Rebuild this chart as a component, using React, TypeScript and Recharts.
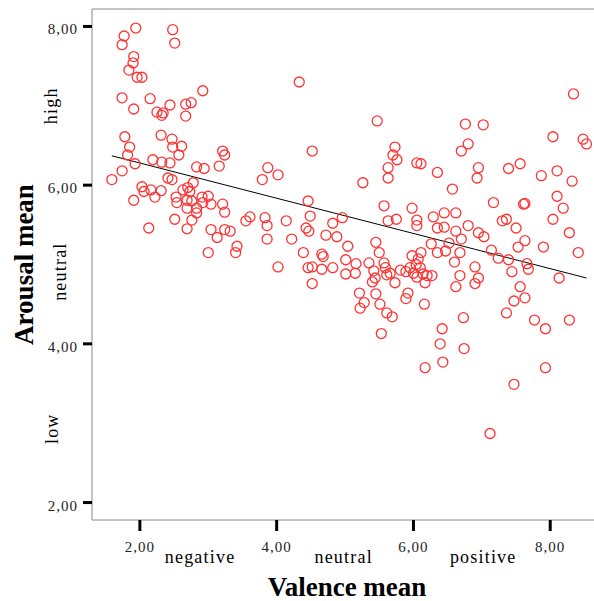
import { ScatterChart, Scatter, XAxis, YAxis, ReferenceLine } from "recharts";

// valence / arousal means
const valence = [
  1.59, 1.74, 1.91, 1.78, 1.85, 1.82, 1.93, 1.74, 1.91, 2.15,
  2.25, 2.32, 2.34, 2.44, 2.67, 2.75, 2.67, 2.92, 1.77, 1.74,
  1.94, 2.48, 2.51, 1.91, 1.90, 1.84, 1.96, 2.03, 2.31, 2.47,
  2.48, 2.61, 2.57, 2.19, 2.32, 2.44, 2.41, 2.47, 2.03, 2.06,
  2.16, 2.22, 2.31, 2.53, 2.54, 2.63, 2.70, 2.73, 2.78, 2.69,
  2.76, 2.69, 2.83, 2.91, 3.00, 2.92, 3.04, 2.83, 2.76, 2.51,
  2.69, 2.13, 2.83, 2.94, 3.16, 3.21, 3.24, 3.21, 3.24, 3.04,
  3.13, 3.24, 3.32, 3.00, 3.42, 3.40,
  3.55, 3.61, 3.83, 3.86, 3.86, 4.14, 4.22, 4.02, 3.79, 3.87,
  4.02, 4.33, 4.52, 4.46, 4.49, 4.43, 4.47, 4.82, 4.96, 4.39,
  4.72, 4.88, 4.66, 4.68, 4.46, 4.52, 4.66, 4.82, 4.52, 5.04,
  5.01, 5.01,
  5.47, 5.26, 5.73, 5.70, 5.76, 6.05, 6.11, 5.63, 5.63, 6.35,
  6.57, 6.76, 6.80, 6.70, 5.57, 5.98, 5.63, 5.75, 6.05, 6.05,
  6.29, 6.45, 6.62, 6.35, 6.45, 6.62, 6.80, 6.70, 6.52, 6.26,
  6.35, 6.47, 6.68, 6.11, 5.98, 6.07, 5.95, 6.04, 6.10, 5.81,
  5.89, 6.00, 6.05, 6.14, 6.20, 6.27, 6.17, 5.92, 5.89, 5.73,
  5.61, 5.66, 5.57, 5.59, 5.42, 5.44, 5.40, 5.50, 5.45, 5.35,
  5.16, 5.15, 5.21, 5.45, 5.28, 5.22, 5.51, 5.61, 5.69, 6.16,
  6.42, 6.39, 6.73, 6.74, 6.17, 6.43, 5.53, 6.60, 6.68, 6.62,
  6.90, 6.95, 6.90,
  8.34, 7.02, 8.04, 8.48, 8.53, 6.95, 6.93, 7.39, 7.56, 7.87,
  8.10, 8.32, 8.10, 8.19, 8.04, 8.28, 8.41, 7.17, 7.61, 7.63,
  7.30, 7.36, 7.50, 6.95, 7.03, 7.63, 7.53, 7.14, 7.24, 7.39,
  7.66, 7.68, 7.44, 7.90, 8.13, 7.56, 7.63, 7.47, 7.36, 7.77,
  7.93, 8.28, 7.93, 7.47, 7.12,
];

const arousal = [
  6.07, 6.18, 5.81, 6.61, 6.48, 6.38, 6.27, 7.10, 6.96, 7.09,
  6.92, 6.88, 6.91, 7.01, 7.02, 7.04, 6.87, 7.19, 7.88, 7.77,
  7.98, 7.96, 7.79, 7.62, 7.54, 7.45, 7.36, 7.36, 6.63, 6.58,
  6.48, 6.49, 6.38, 6.32, 6.29, 6.28, 6.09, 6.07, 5.98, 5.92,
  5.94, 5.85, 5.93, 5.85, 5.78, 5.94, 5.97, 5.92, 6.03, 5.81,
  5.80, 5.71, 5.71, 5.85, 5.86, 5.78, 5.76, 5.65, 5.56, 5.57,
  5.45, 5.46, 6.23, 6.21, 6.24, 6.43, 6.38, 5.76, 5.66, 5.44,
  5.34, 5.44, 5.42, 5.15, 5.23, 5.15,
  5.55, 5.60, 5.59, 5.49, 5.32, 5.55, 5.32, 4.97, 6.07, 6.22,
  6.13, 7.30, 6.43, 5.80, 5.61, 5.46, 5.42, 5.52, 5.59, 5.15,
  5.37, 5.35, 5.13, 5.10, 4.96, 4.97, 4.94, 4.96, 4.76, 5.23,
  5.06, 4.88,
  6.81, 6.03, 6.48, 6.38, 6.32, 6.28, 6.27, 6.22, 6.09, 6.16,
  5.95, 6.77, 6.52, 6.43, 5.74, 5.71, 5.55, 5.57, 5.56, 5.49,
  5.60, 5.65, 5.65, 5.46, 5.47, 5.42, 5.49, 5.32, 5.27, 5.26,
  5.15, 5.17, 5.15, 5.15, 5.11, 5.07, 4.96, 5.00, 4.96, 4.93,
  4.91, 4.89, 4.84, 4.88, 4.86, 4.86, 4.77, 4.64, 4.57, 4.77,
  4.87, 4.89, 5.02, 4.96, 4.92, 4.83, 4.78, 5.15, 5.28, 5.02,
  5.01, 4.89, 4.64, 4.63, 4.52, 4.45, 4.50, 4.39, 4.34, 4.50,
  4.19, 4.00, 4.33, 3.94, 3.70, 3.77, 4.13, 5.03, 4.86, 4.72,
  4.97, 4.83, 4.76,
  7.15, 6.76, 6.61, 6.58, 6.52, 6.22, 6.09, 6.21, 6.27, 6.12,
  6.18, 6.05, 5.86, 5.71, 5.57, 5.40, 5.15, 5.78, 5.76, 5.77,
  5.55, 5.57, 5.46, 5.40, 5.35, 5.30, 5.22, 5.18, 5.08, 5.06,
  5.01, 4.94, 4.91, 5.22, 4.83, 4.72, 4.58, 4.54, 4.39, 4.30,
  4.19, 4.30, 3.70, 3.49, 2.87,
];

// fit line end points
const fitX = [1.59, 8.53];
const fitY = [6.37, 4.83];

const xTicks = [2, 4, 6, 8];
const yTicks = [2, 4, 6, 8];
const valenceCats = ["negative", "neutral", "positive"];
const valenceCatPos = [2.88, 4.98, 7.02];
const arousalCats = ["low", "neutral", "high"];
const arousalCatPos = [2.93, 4.91, 7.0];

const xDomain = [1.3, 8.64];
const yDomain = [1.78, 8.22];

const serif = "'Liberation Serif', 'Times New Roman', serif";
const arousalCatDx = [-34, -26, -35];

const points = valence.map((v, i) => ({ x: v, y: arousal[i] }));
const fmt = (v: number) => v.toFixed(2).replace(".", ",");

const Ring = (p: any) => (
  <circle cx={p.cx} cy={p.cy} r={5} fill="none" stroke="#ff3333" strokeWidth={1.3} />
);

const XTick = (props: any) => {
  const { x, y, payload } = props;
  const ci = valenceCatPos.indexOf(payload.value);
  if (ci >= 0) {
    return (
      <text x={x} y={y + 43} textAnchor="middle" fontFamily={serif} fontSize={18} letterSpacing={1.2} fill="#000">
        {valenceCats[ci]}
      </text>
    );
  }
  return (
    <g>
      <line x1={x} x2={x} y1={y} y2={y + 11} stroke="#000" strokeWidth={3} />
      <text x={x} y={y + 32} textAnchor="middle" fontFamily={serif} fontSize={15} letterSpacing={1} fill="#222">
        {fmt(payload.value)}
      </text>
    </g>
  );
};

const YTick = (props: any) => {
  const { x, y, payload } = props;
  const ci = arousalCatPos.indexOf(payload.value);
  if (ci >= 0) {
    const bx = x + arousalCatDx[ci];
    return (
      <text x={bx} y={y} transform={`rotate(-90 ${bx} ${y})`} textAnchor="middle" fontFamily={serif} fontSize={18} letterSpacing={1.2} fill="#000">
        {arousalCats[ci]}
      </text>
    );
  }
  return (
    <g>
      <line x1={x - 9} x2={x} y1={y} y2={y} stroke="#000" strokeWidth={3} />
      <text x={x - 14} y={y + 8} textAnchor="end" fontFamily={serif} fontSize={15} letterSpacing={1} fill="#222">
        {fmt(payload.value)}
      </text>
    </g>
  );
};

const XTitle = (props: any) => {
  const { x, y, width } = props.viewBox;
  return (
    <text x={x + width / 2 + 4} y={y + 76} textAnchor="middle" fontFamily={serif} fontSize={27} fontWeight="bold" fill="#000">
      Valence mean
    </text>
  );
};

const YTitle = (props: any) => {
  const { x, y, height } = props.viewBox;
  const bx = x + 33;
  const by = y + height / 2;
  return (
    <text x={bx} y={by} transform={`rotate(-90 ${bx} ${by})`} textAnchor="middle" fontFamily={serif} fontSize={27} fontWeight="bold" fill="#000">
      Arousal mean
    </text>
  );
};

export default function App() {
  return (
    <div style={{ width: 594, height: 601, overflow: "hidden" }}>
      <style>{"body{margin:0}"}</style>
      <ScatterChart width={594} height={601} margin={{ top: 9, right: 0, bottom: 0, left: 0 }}>
        <XAxis
          type="number"
          dataKey="x"
          domain={xDomain}
          ticks={[...xTicks, ...valenceCatPos].sort((a, b) => a - b)}
          interval={0}
          tick={<XTick />}
          tickLine={false}
          tickSize={0}
          tickMargin={0}
          axisLine={{ stroke: "#888" }}
          height={81}
          label={<XTitle />}
        />
        <YAxis
          type="number"
          dataKey="y"
          domain={yDomain}
          ticks={[...yTicks, ...arousalCatPos].sort((a, b) => a - b)}
          interval={0}
          tick={<YTick />}
          tickLine={false}
          tickSize={0}
          tickMargin={0}
          axisLine={{ stroke: "#888" }}
          width={92}
          label={<YTitle />}
        />
        <ReferenceLine y={yDomain[1]} stroke="#888" />
        <Scatter data={points} shape={Ring} isAnimationActive={false} />
        <ReferenceLine
          segment={[
            { x: fitX[0], y: fitY[0] },
            { x: fitX[1], y: fitY[1] },
          ]}
          stroke="#000"
          strokeWidth={1}
        />
      </ScatterChart>
    </div>
  );
}
